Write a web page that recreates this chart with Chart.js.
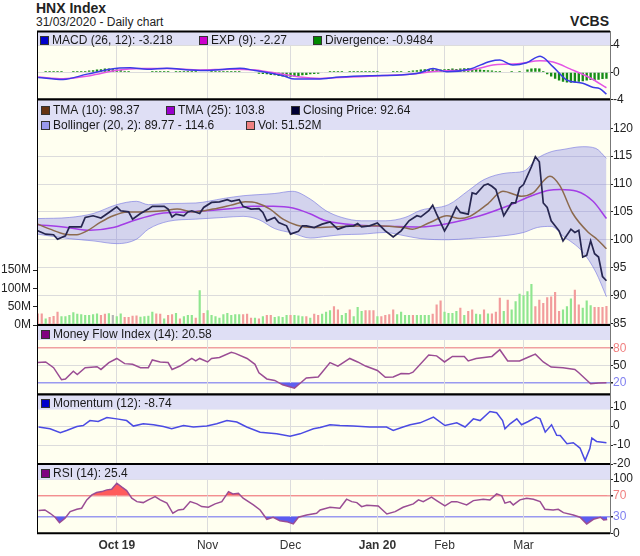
<!DOCTYPE html>
<html><head><meta charset="utf-8">
<script src="https://cdn.jsdelivr.net/npm/chart.js@4.4.1/dist/chart.umd.min.js"></script>
<style>
html,body{margin:0;padding:0;background:#fff;width:640px;height:556px;overflow:hidden;position:relative;font-family:"Liberation Sans",Arial,sans-serif}
canvas{position:absolute;left:0}
.tx{position:absolute;color:#222;white-space:nowrap}
</style></head><body>
<div class="tx" style="left:36px;top:0;font:bold 14px/16px 'Liberation Sans',Arial,sans-serif">HNX Index</div>
<div class="tx" style="left:36px;top:15px;font:12px/14px 'Liberation Sans',Arial,sans-serif">31/03/2020 - Daily chart</div>
<div class="tx" style="right:31px;top:13px;font:bold 14px/16px 'Liberation Sans',Arial,sans-serif">VCBS</div>
<script>
// ---------- DATA (day index = trading day from 3 Sep 2019) ----------
const monthIdx = [20, 43, 64, 86, 103, 123];
const monthLabels = ['Oct 19', 'Nov', 'Dec', 'Jan 20', 'Feb', 'Mar'];
const monthBold = [true, false, false, true, false, false];

const closeIdx = [0,2,4,5,7,8,11,12,14,16,18,20,21,23,24,26,28,29,32,33,34,35,37,38,39,41,42,44,46,48,49,51,52,54,56,57,58,60,61,63,64,66,67,68,70,72,74,76,78,80,81,82,84,86,88,90,92,94,96,97,99,100,101,103,104,106,107,109,110,111,113,114,115,116,118,120,121,122,123,125,126,127,128,129,130,132,133,135,136,137,138,139,140,141,142,143,144];
const closeVal = [101.6,101.0,100.9,100.1,100.7,102.3,102.3,104.0,104.3,103.9,104.9,105.9,105.2,105.0,103.7,104.7,105.5,106.0,106.0,105.5,104.1,104.6,104.3,105.0,105.2,104.7,105.8,106.7,106.8,107.2,106.9,107.2,106.0,105.5,105.6,104.9,103.4,104.0,103.1,102.5,101.0,101.5,102.5,102.5,102.2,102.8,103.2,101.9,102.4,102.5,102.9,102.3,102.5,103.0,101.6,100.5,101.6,103.4,104.3,104.1,105.2,106.2,104.6,101.6,102.8,105.9,104.9,104.6,108.4,108.2,109.8,110.0,109.6,109.0,104.3,106.6,106.6,109.3,109.9,113.1,114.9,114.0,106.6,105.8,103.4,101.6,99.8,101.9,101.3,101.7,96.9,97.2,99.8,97.5,96.9,93.4,92.64];

const tma10Idx = [0,3.1,6.9,9.9,12.5,15.8,19.1,22.6,26.7,31.7,35.3,39.3,44.4,49.4,52.5,55.5,58.8,62.1,65.6,69.7,77.3,85.6,92.5,94.9,99.3,103.6,106.9,109.4,113.7,117.8,122.5,125.4,129.7,132.2,135.4,139.6,141.6,144];
const tma10Val = [102.8,101.9,101.0,100.9,101.6,103.1,104.3,105.0,105.0,105.2,105.5,105.0,105.5,106.3,106.8,106.6,105.5,103.7,102.6,102.2,102.4,102.5,102.2,101.9,103.1,104.3,103.8,104.2,106.3,108.7,107.8,108.4,111.4,109.7,104.8,101.2,100.1,98.37];

const tma25Idx = [0,7.4,13.2,19.1,24.1,31,37.8,44.4,49.4,54.5,59.6,64.6,68.8,73,81.4,89.9,96.8,105.1,112,118.8,125.4,129.5,132.2,136.5,140.6,144];
const tma25Val = [102.7,102.2,101.7,102.2,103.4,104.7,105.0,105.3,105.6,106.0,106.0,105.7,104.7,103.4,102.6,102.4,102.3,103.1,104.3,106.0,108.0,108.9,109.0,108.7,106.9,103.8];

const bbIdx = [0,8,14,20,25,28,33,40,47,52,56,60,64.5,69,73,77,82,88,93,97,104,109,113,119,123,126.5,130,133,138,141.3,144];
const bbUpper = [103.8,104.0,104.7,106.3,106.9,106.3,106.5,106.6,107.4,107.9,108.1,108.3,108.7,107.3,105.2,104.0,103.4,103.4,104.0,105.3,106.3,108.8,110.8,112.0,112.3,114.6,115.8,116.2,116.7,116.4,114.6];
const bbLower = [101.0,100.2,99.8,99.3,100.1,101.9,103.3,103.7,104.0,104.2,103.6,102.0,101.2,100.3,100.6,100.9,101.0,101.3,100.7,100.2,100.0,100.2,100.4,100.8,101.3,102.2,102.4,100.7,97.8,94.2,89.77];

// volume in millions, one per trading day; u = up day, d = down day, n = unchanged
const volM = [31.5,31.5,18,21.6,24.3,36,24,24,27,35,31,29,27,27,29,31.5,27,31,32,27,24,31.5,21.6,21.6,25,26,22.5,24,25,36,31.5,31,18,27,29,33,18,24,27,27,20,94.5,33,40,27,24,20,29,
33,27,29,29,29,31,20,20,18,24,27,27,22,24,22,27,27,27,26,24,24,20,31,27,31,36,40,51,42,27,33,42,24,49,38,40,40,40,24,24,27,29,42,29,36,27,27,27,
27,27,27,27,31,56,67,36,33,33,38,47,27,38,42,31,29,42,31.5,31.5,36,74,38,69,42,65,85,81,92,112,51,69,60,76,78,90,38,42,51,72,96,56,47,67,54,49,49,49,51.5];
const volDir = ('dduddduuuu'+'uuuuuuddun'+'uudddduuuu'+'ddudduduuu'+'duduuuuu'+'uuuudddudu'+'dduuuuduuu'+'dudduuuddu'+'uduuudddud'+'ddduuuud'+'uuuuddduuu'+'ududduudud'+'dduduuuuuu'+'ddddddduuu'+'dduuudddd').split('');

const macdIdx = [0.1,6.4,12.5,20.1,23.4,27.7,32.7,38.5,42.9,47.4,51.2,55,58.3,62.1,65.1,70.7,76.5,84.1,91.7,96.8,100.1,103.6,109.5,114.5,117,120.3,123.8,127.2,130.5,134,138,140.5,142.3,144];
const macdVal = [-0.75,-1.05,-0.27,0.6,0.66,0.45,0.6,0.35,0.25,0.45,0.6,0.25,-0.05,-0.5,-1.0,-1.0,-0.7,-0.5,-0.4,-0.07,0.57,0.07,0.5,1.6,1.8,1.06,1.4,2.35,0.8,-1.15,-1.6,-2.2,-2.4,-3.22];
const expIdx = [0.1,6.4,13.2,20.1,25.9,32.7,41.1,48.7,55,61.3,66.4,71.5,79.1,86.7,94.2,101.9,109.5,115.8,122.1,127.2,130.5,134.8,139.8,144];
const expVal = [-0.7,-0.95,-0.5,0.3,0.55,0.55,0.35,0.45,0.35,-0.2,-0.7,-0.9,-0.7,-0.5,-0.3,0.2,0.35,1.1,1.3,1.7,1.5,0.5,-0.8,-2.27];
const divergence = [0,0,.2,.2,.2,.2,.2,0,0,.2,.2,.2,.2,.25,.3,.4,.45,.55,.55,.45,.4,.35,.2,.2,0,0,0,0,0,.2,.2,.2,.2,.2,0,.2,.2,.2,.2,.2,.2,0,0,0,.2,.2,.2,.2,.2,.2,.2,.2,0,0,0,0,
-.2,-.25,-.3,-.4,-.45,-.55,-.6,-.65,-.65,-.6,-.55,-.45,-.4,-.3,-.25,-.2,0,0,.2,.2,.2,.2,0,.2,.2,.2,.2,.2,.2,.2,.2,0,0,0,.2,.2,.2,0,
.2,.25,.3,.4,.45,.5,.45,.4,.4,.45,.5,.55,.5,.55,.6,.6,.55,.5,.4,.35,.3,.25,.2,.2,0,0,.2,0,.2,0,.4,.55,.6,.55,.2,
-.3,-.6,-.95,-1.2,-1.4,-1.5,-1.55,-1.5,-1.4,-1.3,-1.2,-1.15,-1.2,-1.1,-1.0,-0.95];

const mfiIdx = [0,2,4,6,7,9,10,12,15,16,18,20,22,24,26,28,29,31,33,34,36,39,40,41,43,44,46,49,50,53,55,56,58,60,62,65,66,68,71,72,74,76,79,81,83,86,88,90,92,94,95,99,101,103,105,108,109,111,115,117,119,122,124,126,128,130,133,136,137,140,142,144];
const mfiVal = [55.2,56.3,46.4,25.7,27.0,40.4,34.6,46.4,48.1,43.4,55.2,62.3,53.4,52.2,46.4,46.4,59.8,56.3,55.2,43.4,49.2,62.3,58.0,62.3,56.3,62.3,64.0,72.8,71.1,62.3,52.2,37.6,27.0,24.5,16.9,11.1,16.9,28.7,30.5,38.6,55.2,49.2,62.3,56.3,49.2,41.6,29.8,30.5,36.3,35.8,38.6,68.1,66.8,56.3,65.8,65.8,58.0,62.3,65.8,77.4,58.0,58.0,64.0,69.8,56.3,47.4,46.4,43.4,37.6,18.7,19.9,20.58];

const momIdx = [0.2,3.1,5.7,7.3,9.9,11.5,13.2,15.3,17.5,20,22.5,24.2,26.7,29.3,31.8,33.9,36.9,39.4,42.8,45.3,47.9,50.4,52.9,56.3,60.5,63.9,66.4,69.8,71.5,74,76.5,79.9,84.1,88.3,90,92.5,94.3,96.8,100.2,103.1,106.1,108.2,110.3,112,114.5,116.2,117.7,118.3,119.6,121.3,122.5,124.2,126.2,127.2,128.5,130.1,131.4,132.3,134,135.6,137.3,138.6,139.8,140.3,141.5,144];
const momVal = [-0.5,-1.4,-3.5,-2.3,-0.2,0.3,2.9,2.4,4.5,3.8,2.9,0,1.2,0.7,-0.2,-1.4,0.3,-0.5,0,1.2,2.9,2.1,-0.5,-3.2,-4.1,-5.3,-4.1,-1.4,-0.8,0.7,0.3,0,-0.5,-0.5,-2.3,-0.5,0.7,1.7,4.7,0.3,1.7,-0.5,3.8,2.9,7.7,7.0,2.9,-1.4,1.2,3.8,0.7,2.4,4.7,3.8,-3.2,0.7,-4.9,-5.0,-9.3,-8.8,-11.6,-18.1,-11.9,-6.3,-8.1,-8.74];

const rsiIdx = [0.2,1.8,3.1,4.4,5.5,6.9,8.2,9.9,11.1,12.4,13.7,14.9,16.2,17.5,18.7,20,21.3,22.5,23.8,25.1,26.7,28,29.7,31,32.7,34.2,35.6,36.9,38.6,40.3,41.5,43.2,44.9,46.6,48.3,49.4,50.8,52,54.6,56.3,58,59.6,61.3,63,64.7,66,68.1,70.6,71.5,74,76.5,78.2,79.5,80.8,82,83.3,86.2,88.4,90.5,92.5,95.1,96.4,97.6,99.7,101,103.1,104.8,106.1,108.6,110.3,112.8,114.5,116.2,117.5,118.3,119.6,120.4,122.1,123.8,125.5,127.2,128.4,130.5,131.8,133.1,135.6,137.3,139,140.7,142.5,143.3,144.2];
const rsiVal = [41.9,43.1,37.0,29.6,19.6,27.8,40.0,44.4,46.3,61.7,70.9,75.2,77.0,80.2,81.5,92.6,85.2,78.9,64.8,58.5,56.7,61.7,67.8,61.7,55.6,37.0,43.1,44.4,58.5,54.3,49.3,48.1,54.3,58.5,77.0,72.8,74.1,64.8,52.4,43.1,25.9,29.6,23.3,21.5,17.2,29.6,33.9,37.0,43.1,48.1,46.3,63.0,58.5,56.7,49.3,51.9,50.6,35.7,40.0,48.1,54.3,61.7,58.5,66.7,60.4,50.6,58.5,58.5,52.4,60.4,63.0,61.7,72.8,69.1,55.6,58.5,52.4,61.7,64.8,63.0,58.5,44.4,43.1,44.4,38.1,33.9,29.6,17.2,25.9,29.6,24.6,25.4];

const macdTicks = [-4, -2, 0, 2, 4];
const priceTicks = [85, 90, 95, 100, 105, 110, 115, 120];
const volTicks = [0, 50e6, 100e6, 150e6];
const mfiTicks = [20, 50, 80];
const momTicks = [-20, -10, 0, 10];
const rsiTicks = [0, 30, 70, 100];

// ---------- STYLE ----------
const FONT = '"Liberation Sans", Arial, sans-serif';
const PLOT_BG = '#fffff0';
const BAND = '#dfdff5';
const GRID = '#dcdcdc';
const HI = '#f0a0a0', LO = '#9a9af0';

function pts(xs, ys) { return xs.map((x, i) => ({ x: x, y: ys[i] })); }

const panel = {
  id: 'panel',
  beforeDraw(ch, a, o) {
    const c = ch.ctx, r = ch.chartArea;
    c.save(); c.fillStyle = PLOT_BG; c.fillRect(r.left, r.top, r.right - r.left, r.bottom - r.top); c.restore();
  },
  beforeDatasetsDraw(ch, a, o) {
    const c = ch.ctx, r = ch.chartArea;
    c.save(); c.fillStyle = BAND; c.fillRect(r.left, r.top, r.right - r.left, o.band); c.restore();
  },
  afterDatasetsDraw(ch, a, o) {
    const c = ch.ctx, r = ch.chartArea;
    c.save();
    c.font = '12px ' + FONT; c.textBaseline = 'middle';
    (o.items || []).forEach(it => {
      const y = Math.round(r.top + it.dy);
      c.fillStyle = it.color; c.fillRect(it.x, y - 4, 9, 9);
      c.strokeStyle = '#333'; c.lineWidth = 1; c.strokeRect(it.x + 0.5, y - 3.5, 8, 8);
      c.fillStyle = '#1a1a1a'; c.fillText(it.text, it.x + 12, y + 1);
    });
    c.restore();
  },
  afterDraw(ch, a, o) {
    const c = ch.ctx, r = ch.chartArea;
    c.save(); c.strokeStyle = '#000';
    c.lineWidth = 1; c.beginPath(); c.moveTo(r.left + 0.5, r.top); c.lineTo(r.left + 0.5, r.bottom); c.stroke();
    c.lineWidth = 2; c.beginPath();
    c.moveTo(r.left, r.top); c.lineTo(r.right, r.top);
    c.moveTo(r.left, r.bottom); c.lineTo(r.right, r.bottom); c.stroke();
    c.restore();
  }
};

function xScale(show) {
  return {
    type: 'linear', min: -0.2, max: 144.9, offset: false,
    afterBuildTicks: s => { s.ticks = monthIdx.map(v => ({ value: v })); },
    afterFit: s => { s.height = show ? 22.7 : 0; },
    grid: { color: GRID, drawTicks: false, offset: false },
    border: { display: false },
    ticks: {
      display: show, autoSkip: false, maxRotation: 0, padding: 5, color: '#333',
      callback: (v, i) => monthLabels[i],
      font: c => ({ family: FONT, size: 12, weight: monthBold[c.index] ? 'bold' : 'normal' })
    }
  };
}

function yRight(min, max, ticks, gridColor, labelColor, gridWidth) {
  return {
    type: 'linear', position: 'right', min: min, max: max,
    afterBuildTicks: s => { s.ticks = ticks.map(v => ({ value: v })); },
    afterFit: s => { s.width = 30; },
    grid: { color: gridColor || GRID, lineWidth: gridWidth || 1, drawTicks: true, tickLength: 3, tickColor: '#222' },
    border: { display: true, color: '#777' },
    ticks: { padding: 0, color: labelColor || '#222', font: { family: FONT, size: 12 }, callback: v => String(v) }
  };
}

function makeChart(canvasTop, panelTop, panelBottom, canvasBottom, showX, datasets, scales, band, items, padLeft) {
  const h = canvasBottom - canvasTop;
  const cv = document.createElement('canvas');
  cv.width = 640; cv.height = h;
  cv.style.top = canvasTop + 'px'; cv.style.width = '640px'; cv.style.height = h + 'px';
  document.body.appendChild(cv);
  scales.x = xScale(showX);
  return new Chart(cv, {
    type: 'line',
    data: { datasets: datasets },
    options: {
      responsive: false, animation: false, events: [],
      layout: { padding: { left: padLeft, right: 0, top: panelTop - canvasTop, bottom: showX ? 0 : canvasBottom - panelBottom } },
      elements: { point: { radius: 0 }, line: { borderWidth: 1.5 } },
      scales: scales,
      plugins: { legend: { display: false }, tooltip: { enabled: false }, panel: { band: band, items: items } }
    },
    plugins: [panel]
  });
}

const lineDs = (data, color, extra) => Object.assign({ type: 'line', data: data, borderColor: color, borderWidth: 1.5, pointRadius: 0, fill: false }, extra || {});
const smooth = { cubicInterpolationMode: 'monotone' };

// ---------- MACD ----------
makeChart(19, 31.5, 99.5, 112, false, [
  lineDs(pts(macdIdx, macdVal), '#3b3be6', Object.assign({ order: 0 }, smooth)),
  lineDs(pts(expIdx, expVal), '#e455e4', Object.assign({ order: 1 }, smooth)),
  { type: 'bar', data: divergence.map((v, i) => ({ x: i, y: v })), backgroundColor: '#168c16', barPercentage: 0.6, categoryPercentage: 1, order: 3 }
], { y: yRight(-4, 6.0, macdTicks) }, 13.5, [
  { x: 40, dy: 8, color: '#0000cc', text: 'MACD (26, 12): -3.218' },
  { x: 199, dy: 8, color: '#cc00cc', text: 'EXP (9): -2.27' },
  { x: 313, dy: 8, color: '#008800', text: 'Divergence: -0.9484' }
], 37);

// ---------- PRICE + VOLUME ----------
const mainScales = {
  y: yRight(84.7, 125.17, priceTicks),
  vol: {
    type: 'linear', position: 'left', min: 0, max: 615e6,
    afterBuildTicks: s => { s.ticks = volTicks.map(v => ({ value: v })); },
    afterFit: s => { s.width = 37; },
    grid: { drawOnChartArea: false, drawTicks: true, tickLength: 4, tickColor: '#222' },
    border: { display: false },
    ticks: { padding: 2, color: '#222', font: { family: FONT, size: 12 }, callback: v => (v / 1e6) + 'M' }
  }
};
makeChart(87, 99.5, 325, 337, false, [
  lineDs(pts(bbIdx, bbUpper), 'rgba(115,115,225,0.6)', Object.assign({ borderWidth: 1, fill: '+1', backgroundColor: 'rgba(120,120,230,0.33)', order: 5, yAxisID: 'y' }, smooth)),
  lineDs(pts(bbIdx, bbLower), 'rgba(115,115,225,0.6)', Object.assign({ borderWidth: 1, order: 5, yAxisID: 'y' }, smooth)),
  { type: 'bar', yAxisID: 'vol', data: volM.map((v, i) => ({ x: i, y: v * 1e6 })),
    backgroundColor: volDir.map(d => d === 'u' ? '#8fe68f' : (d === 'd' ? '#f29c9c' : '#b4b4b4')),
    barPercentage: 0.55, categoryPercentage: 1, order: 10 },
  lineDs(pts(tma25Idx, tma25Val), '#a33de6', Object.assign({ order: 3, yAxisID: 'y' }, smooth)),
  lineDs(pts(tma10Idx, tma10Val), '#8c6a4e', Object.assign({ order: 2, yAxisID: 'y' }, smooth)),
  lineDs(pts(closeIdx, closeVal), '#26264f', { order: 1, yAxisID: 'y', borderWidth: 1.7 })
], mainScales, 30.5, [
  { x: 41, dy: 10.5, color: '#663311', text: 'TMA (10): 98.37' },
  { x: 166, dy: 10.5, color: '#9900cc', text: 'TMA (25): 103.8' },
  { x: 291, dy: 10.5, color: '#000033', text: 'Closing Price: 92.64' },
  { x: 41, dy: 25, color: '#9999ee', text: 'Bollinger (20, 2): 89.77 - 114.6' },
  { x: 246, dy: 25, color: '#ee8080', text: 'Vol: 51.52M' }
], 0);

// ---------- MFI ----------
makeChart(313, 325, 394.6, 407, false, [
  lineDs(pts(mfiIdx, mfiVal), '#9a4d94', { fill: { target: { value: 20 }, above: 'rgba(0,0,0,0)', below: '#5f5ff0' } })
], { y: yRight(0, 120, mfiTicks,
      c => c.tick.value === 80 ? HI : (c.tick.value === 20 ? LO : GRID),
      c => c.tick.value === 80 ? '#f08080' : (c.tick.value === 20 ? '#8080f0' : '#222'),
      c => (c.tick.value === 80 || c.tick.value === 20) ? 1.5 : 1) }, 15, [
  { x: 41, dy: 8.5, color: '#800080', text: 'Money Flow Index (14): 20.58' }
], 37);

// ---------- MOMENTUM ----------
makeChart(382, 394.6, 464, 476, false, [
  lineDs(pts(momIdx, momVal), '#4b4be3')
], { y: yRight(-20, 16.6, momTicks) }, 15, [
  { x: 41, dy: 8.5, color: '#0000cc', text: 'Momentum (12): -8.74' }
], 37);

// ---------- RSI ----------
makeChart(452, 464, 533.3, 556, true, [
  lineDs(pts(rsiIdx, rsiVal), '#9a4d94', { fill: { target: { value: 70 }, above: '#ff5c5c', below: 'rgba(0,0,0,0)' }, order: 0 }),
  lineDs(pts(rsiIdx, rsiVal), 'rgba(0,0,0,0)', { borderWidth: 0, fill: { target: { value: 30 }, above: 'rgba(0,0,0,0)', below: '#5c5cf0' }, order: 1 })
], { y: yRight(0, 128, rsiTicks,
      c => c.tick.value === 70 ? HI : (c.tick.value === 30 ? LO : GRID),
      c => c.tick.value === 70 ? '#f08080' : (c.tick.value === 30 ? '#8080f0' : '#222'),
      c => (c.tick.value === 70 || c.tick.value === 30) ? 1.5 : 1) }, 15.5, [
  { x: 41, dy: 8.5, color: '#800080', text: 'RSI (14): 25.4' }
], 37);
</script>
</body></html>
